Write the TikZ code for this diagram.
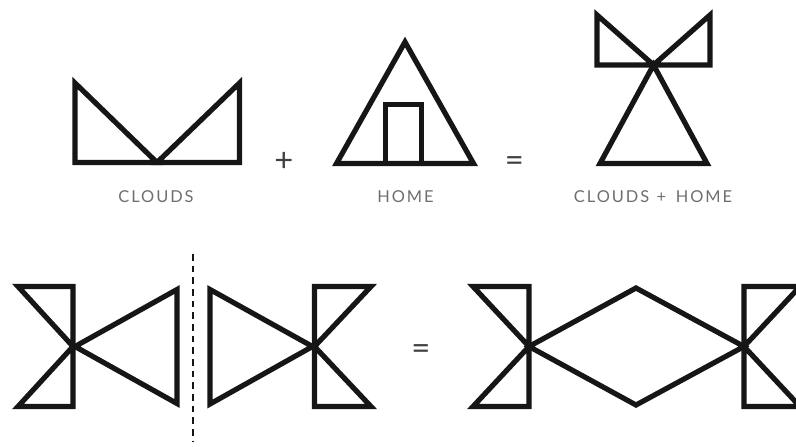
\documentclass[tikz,border=0pt]{standalone}
\usepackage{fontspec}
\setsansfont{Lato}
\newfontfamily\wordfont[LetterSpace=12]{Lato}
\usepackage{xcolor}
\definecolor{inkDark}  {RGB}{22,  22,  22}
\definecolor{wordGrey} {RGB}{110, 110, 110}
\definecolor{signGrey} {RGB}{65,  65,  65}

\begin{document}
\begin{tikzpicture}[
  x=0.03cm, y=-0.03cm,
  glyph/.style = {draw=inkDark, line width=0.156cm, line join=miter},
  divider/.style = {draw=inkDark, line width=0.06cm, dash pattern=on 0.2cm off 0.15cm},
  wordlabel/.style = {font=\wordfont\fontsize{14}{16}\selectfont, text=wordGrey, inner sep=0pt},
  sign/.style = {font=\sffamily\fontsize{28}{30}\selectfont, text=signGrey, inner sep=0pt}
]
  \useasboundingbox (0,0) rectangle (796,446);
  \clip (0,0) rectangle (796,446);

  % Clouds
  \draw[glyph] (75,83) -- (75,162.5) -- (157,162.5) -- cycle;
  \draw[glyph] (239.5,83) -- (239.5,162.5) -- (157,162.5) -- cycle;
  \node[wordlabel] (cloudsLbl) at (156,197) {CLOUDS};

  \node[sign] (plusTop) at (284,162) {+};

  % Home
  \draw[glyph] (405,42) -- (336.5,163.5) -- (473.5,163.5) -- cycle;
  \draw[glyph] (385.5,163.5) -- (385.5,104.5) -- (421.5,104.5) -- (421.5,163.5);
  \node[wordlabel] (homeLbl) at (405.5,197) {HOME};

  \node[sign] (eqTop) at (514.5,164) {=};

  % Clouds + home
  \draw[glyph] (597,15) -- (597,65) -- (710,65) -- (710,15) -- (653.5,65) -- cycle;
  \draw[glyph] (653.5,65) -- (600,163.5) -- (707,163.5) -- cycle;
  \node[wordlabel] (sumLbl) at (653,197) {CLOUDS\hspace{1pt} + \hspace{3pt}HOME};

  % Mirrored halves
  \draw[glyph] (73,346.5) -- (18,286.5) -- (73,286.5) -- (73,406.5) -- (18,406.5) -- cycle;
  \draw[glyph] (75,346.5) -- (177,289.5) -- (177,403.5) -- cycle;
  \draw[divider] (193,254) -- (193,442);
  \draw[glyph] (312.5,346.5) -- (210,289.5) -- (210,404) -- cycle;
  \draw[glyph] (314.5,346.5) -- (371,286.5) -- (314.5,286.5) -- (314.5,406.5) -- (371,406.5) -- cycle;

  \node[sign] (eqBottom) at (421,352.5) {=};

  % Joined result
  \draw[glyph] (529,346.5) -- (473,286.5) -- (529,286.5) -- (529,406.5) -- (473,406.5) -- cycle;
  \draw[glyph] (529,346.5) -- (636,288) -- (744,346.5) -- (636,405) -- cycle;
  \draw[glyph] (744,346.5) -- (800,286.5) -- (744,286.5) -- (744,406.5) -- (800,406.5) -- cycle;
\end{tikzpicture}
\end{document}
